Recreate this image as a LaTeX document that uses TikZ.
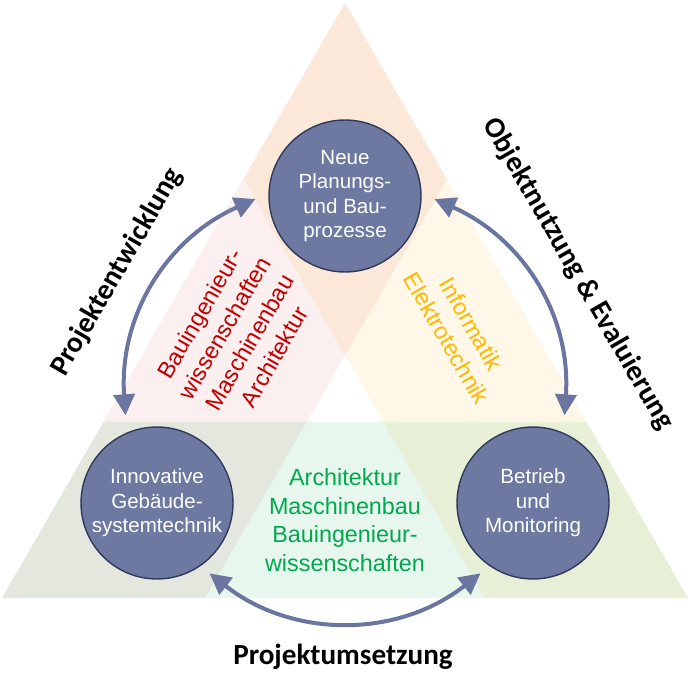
\documentclass[tikz,border=0pt]{standalone}
\usepackage{fontspec}
\setmainfont{Liberation Sans}
\newfontfamily\labelfont{Carlito}
\usepackage{xcolor}
\usepackage{tikz}
\usetikzlibrary{calc,arrows.meta}

\definecolor{stagefill}{HTML}{6E79A1}
\definecolor{stageline}{HTML}{2F3A5A}
\definecolor{flowblue}{HTML}{6B76A0}
\definecolor{redtext}{HTML}{C00000}
\definecolor{orangetext}{HTML}{FFB800}
\definecolor{greentext}{HTML}{00A84F}
\definecolor{pinkstrip}{HTML}{FBEFEF}
\definecolor{yellowstrip}{HTML}{FFF8E8}
\definecolor{mintstrip}{HTML}{E7F7ED}

\begin{document}
\begin{tikzpicture}[x=0.02cm, y=0.02cm,
  stage/.style={circle, draw=stageline, fill=stagefill, line width=0.8pt,
    minimum size=3.04cm, inner sep=0pt, text=white, align=center,
    font=\fontsize{11.7}{13.9}\selectfont},
  field/.style={align=center, font=\fontsize{13.3}{16.3}\selectfont},
  phase/.style={font=\labelfont\bfseries\fontsize{16.6}{20}\selectfont},
  flow/.style={<->, >={Triangle[length=0.42cm,width=0.42cm]},
    draw=flowblue, line width=0.08cm}]

\useasboundingbox (0,0) rectangle (700,691);

\coordinate (A) at (345,688);
\coordinate (B) at (2,93);
\coordinate (C) at (688,93);

\begin{scope}[blend group=multiply]
\fill[pinkstrip] (A) -- (B) -- ($(B)!0.296!(C)$) -- ($(A)!0.296!(C)$) -- cycle;
\fill[yellowstrip] (A) -- (C) -- ($(C)!0.296!(B)$) -- ($(A)!0.296!(B)$) -- cycle;
\fill[mintstrip] (B) -- (C) -- ($(C)!0.296!(A)$) -- ($(B)!0.296!(A)$) -- cycle;
\end{scope}

\node[stage] (plan) at (345,495) {Neue\\Planungs-\\und Bau-\\prozesse};
\node[stage] (innov) at (157,188) {Innovative\\Gebäude-\\systemtechnik};
\node[stage] (betrieb) at (533,188) {Betrieb\\und\\Monitoring};

\node[field, text=redtext, rotate=60] (bau) at (237,356)
  {Bauingenieur-\\wissenschaften\\Maschinenbau\\Architektur};
\node[field, text=orangetext, rotate=-60] (info) at (459,360)
  {Informatik\\Elektrotechnik};
\node[field, text=greentext] (arch) at (345,171)
  {Architektur\\Maschinenbau\\Bauingenieur-\\wissenschaften};

\coordinate (ring) at (345,291);
\coordinate (l1) at ($(ring)+(114:220)$);
\coordinate (l2) at ($(ring)+(184:220)$);
\coordinate (r1) at ($(ring)+(66:220)$);
\coordinate (r2) at ($(ring)+(-4:220)$);
\coordinate (b1) at ($(ring)+(232:220)$);
\coordinate (b2) at ($(ring)+(308:220)$);

\draw[flow] (l1) to[bend right=35] (l2);
\draw[flow] (r1) to[bend left=35] (r2);
\draw[flow] (b1) to[bend right=38] (b2);

\node[phase, rotate=60] (entw) at (117,419) {Projektentwicklung};
\node[phase, rotate=-60] (nutz) at (578,417) {Objektnutzung \& Evaluierung};
\node[phase] (umsetz) at (343,34) {Projektumsetzung};

\end{tikzpicture}
\end{document}
